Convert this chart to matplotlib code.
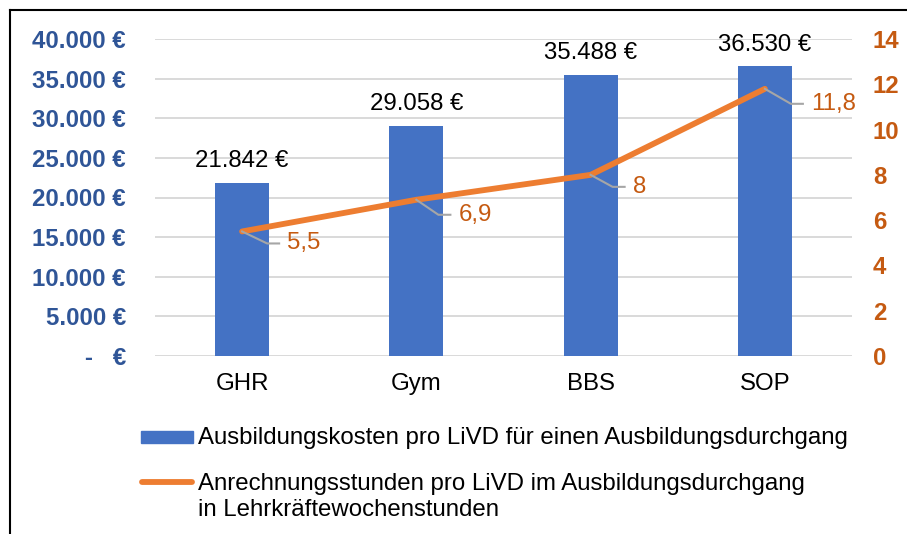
import matplotlib
matplotlib.use("Agg")
import matplotlib.pyplot as plt
import matplotlib.transforms as mtransforms
from matplotlib import patches
from matplotlib.lines import Line2D
from matplotlib.ticker import FuncFormatter, MultipleLocator

plt.rcParams['font.family'] = ['Liberation Sans', 'DejaVu Sans']

# data
categories = ['GHR', 'Gym', 'BBS', 'SOP']
kosten = [21842, 29058, 35488, 36530]
stunden = [5.5, 6.9, 8, 11.8]
label_kosten = 'Ausbildungskosten pro LiVD für einen Ausbildungsdurchgang'
label_stunden = 'Anrechnungsstunden pro LiVD im Ausbildungsdurchgang\nin Lehrkräftewochenstunden'

BLUE = '#4472C4'
ORANGE = '#ED7D31'
DARK_ORANGE = '#C55A11'
AXIS_BLUE = '#2F5597'
GRID = '#D9D9D9'
FS = 17.3

W, H = 907, 534
fig = plt.figure(figsize=(W / 100, H / 100), dpi=100)
ax = fig.add_axes([155 / W, 1 - 356 / H, (852 - 155) / W, (356 - 39) / H])
ax2 = ax.twinx()

x = list(range(len(categories)))
ax.bar(x, kosten, width=0.31, color=BLUE, zorder=2)
ax.set_xlim(-0.5, len(categories) - 0.5)
ax.set_ylim(0, 40000)
ax.yaxis.set_major_locator(MultipleLocator(5000))
ax.grid(axis='y', color=GRID, linewidth=1.4, zorder=0)
ax.set_axisbelow(True)


def euro(v, pos):
    if v == 0:
        return '-   €'
    return '{:,.0f} €'.format(v).replace(',', '.')


ax.yaxis.set_major_formatter(FuncFormatter(euro))
ax.set_xticks(x)
ax.set_xticklabels(categories, fontsize=FS)
ax.tick_params(axis='x', length=0, pad=12)
ax.tick_params(axis='y', length=0, pad=21, labelsize=FS, labelcolor=AXIS_BLUE)
for t in ax.get_yticklabels():
    t.set_fontweight('bold')
for s in ax.spines.values():
    s.set_visible(False)

for xi, v in zip(x, kosten):
    ax.annotate(euro(v, None), (xi, v), xytext=(0, 11.5), textcoords='offset points',
                ha='center', va='baseline', fontsize=FS, color='black')

ax2.plot(x, stunden, color=ORANGE, linewidth=4.2, solid_capstyle='round', zorder=3)
ax2.set_ylim(0, 14)
ax2.yaxis.set_major_locator(MultipleLocator(2))
ax2.tick_params(axis='y', length=0, pad=15, labelsize=FS, labelcolor=DARK_ORANGE)
for t in ax2.get_yticklabels():
    t.set_fontweight('bold')
for s in ax2.spines.values():
    s.set_visible(False)

# line data labels with leader lines (offsets in pixels)
offsets = [(45, -12), (42, -15), (42, -12), (46, -15)]
for xi, v, (dx, dy) in zip(x, stunden, offsets):
    tr = fig.dpi_scale_trans + mtransforms.ScaledTranslation(xi, v, ax2.transData)
    ax2.plot([0, (dx - 20) / 100, (dx - 8) / 100], [0, dy / 100, dy / 100],
             transform=tr, color='#A6A6A6', linewidth=1.5, zorder=4)
    ax2.annotate('{:g}'.format(v).replace('.', ','), (xi, v), xytext=(dx, dy),
                 textcoords='offset pixels', ha='left', va='center',
                 fontsize=FS, color=DARK_ORANGE)

# legend drawn below the chart
fig.patches.append(patches.Rectangle((141 / W, 1 - 443 / H), 52 / W, 12 / H,
                                     transform=fig.transFigure, color=BLUE))
fig.lines.append(Line2D([142 / W, 192 / W], [1 - 482 / H, 1 - 482 / H],
                        transform=fig.transFigure, color=ORANGE, linewidth=4.2,
                        solid_capstyle='round'))
fig.text(198 / W, 1 - 438 / H, label_kosten, fontsize=FS, va='center', ha='left')
fig.text(198 / W, 1 - 473 / H, label_stunden, fontsize=FS, va='top', ha='left',
         linespacing=1.26)

# outer frame (top and left edges visible)
fig.lines.append(Line2D([10 / W, 1], [1 - 10 / H, 1 - 10 / H], transform=fig.transFigure,
                        color='black', linewidth=1.5))
fig.lines.append(Line2D([10 / W, 10 / W], [0, 1 - 10 / H], transform=fig.transFigure,
                        color='black', linewidth=1.5))

fig.savefig('out.png', dpi=100)
